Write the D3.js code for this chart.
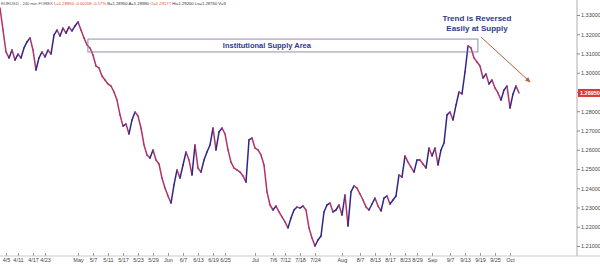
<!DOCTYPE html>
<meta charset="utf-8">
<script src="https://d3js.org/d3.v7.min.js"></script>
<style>
    body { margin: 0; background: #fff; }
    svg { display: block; font-family: "Liberation Sans", Arial, sans-serif; }
</style>
<svg width=600 height=265></svg>
<script>
    // EURUSD 240 min closes, one value every few bars
    var closes = [
        1.3336, 1.3222, 1.3108, 1.3077, 1.3118, 1.3066, 1.3097, 1.3077, 1.3129, 1.3160,
        1.3181, 1.3118, 1.3014, 1.3077, 1.3108, 1.3082, 1.3118, 1.3097, 1.3196, 1.3222,
        1.3191, 1.3232, 1.3206, 1.3238, 1.3217, 1.3243, 1.3264, 1.3222, 1.3181, 1.3144,
        1.3129, 1.3092, 1.3035, 1.3025, 1.2983, 1.2962, 1.2942, 1.2931, 1.2900, 1.2858,
        1.2781, 1.2723, 1.2734, 1.2682, 1.2755, 1.2796, 1.2775, 1.2713, 1.2625, 1.2573,
        1.2557, 1.2599, 1.2547, 1.2526, 1.2453, 1.2401, 1.2360, 1.2323, 1.2417, 1.2495,
        1.2453, 1.2521, 1.2588, 1.2547, 1.2469, 1.2625, 1.2505, 1.2484, 1.2547, 1.2588,
        1.2625, 1.2713, 1.2599, 1.2692, 1.2713, 1.2682, 1.2599, 1.2536, 1.2505, 1.2495,
        1.2484, 1.2464, 1.2432, 1.2651, 1.2661, 1.2609, 1.2599, 1.2573, 1.2521, 1.2381,
        1.2313, 1.2287, 1.2308, 1.2277, 1.2251, 1.2225, 1.2194, 1.2245, 1.2287, 1.2303,
        1.2297, 1.2308, 1.2287, 1.2194, 1.2142, 1.2100, 1.2131, 1.2152, 1.2277, 1.2313,
        1.2323, 1.2277, 1.2287, 1.2313, 1.2261, 1.2365, 1.2204, 1.2381, 1.2412, 1.2401,
        1.2370, 1.2339, 1.2303, 1.2287, 1.2318, 1.2349, 1.2308, 1.2282, 1.2349, 1.2360,
        1.2318, 1.2339, 1.2360, 1.2469, 1.2458, 1.2568, 1.2536, 1.2510, 1.2484, 1.2547,
        1.2547, 1.2526, 1.2505, 1.2609, 1.2568, 1.2609, 1.2521, 1.2599, 1.2635, 1.2781,
        1.2796, 1.2755, 1.2832, 1.2900, 1.2890, 1.3004, 1.3139, 1.3129, 1.3077, 1.3056,
        1.3035, 1.2973, 1.2994, 1.2942, 1.2962, 1.2921, 1.2895, 1.2858, 1.2910, 1.2931,
        1.2817, 1.2890, 1.2931, 1.2895
    ];

    var dateLabels = ["4/5", "4/11", "4/17", "4/23", "May", "5/7", "5/11", "5/17", "5/23", "5/29",
        "Jun", "6/7", "6/13", "6/19", "6/25", "Jul", "7/6", "7/12", "7/18", "7/24",
        "Aug", "8/7", "8/13", "8/17", "8/23", "8/29", "Sep", "9/7", "9/13", "9/19", "9/25", "Oct"];
    var dateIdx = [2, 6, 11, 15, 26, 31, 36, 41, 46, 51,
        56, 61, 66, 71, 75, 85, 91, 95, 100, 105,
        114, 120, 125, 130, 135, 139, 144, 150, 155, 160, 165, 170];

    var priceTicks = [1.21, 1.22, 1.23, 1.24, 1.25, 1.26, 1.27, 1.28, 1.29, 1.30, 1.31, 1.32, 1.33];

    // supply zone and the reversal arrow, in bar index / price
    var supplyZone = [29.3, 159.3, 1.3108, 1.3175];
    var arrowFrom = [160.3, 1.3186];
    var arrowTo = [176.7, 1.2952];

    var svg = d3.select("svg");
    var x = d3.scaleLinear().domain([0, closes.length - 1]).range([0, 519]);
    var y = d3.scaleLinear().domain([1.21, 1.33]).range([246, 15]);
    var fmt = d3.format(".5f");

    // header line
    var header = svg.append("text").attr("x", 1).attr("y", 5).style("font-size", "4.2px");
    header.append("tspan").attr("fill", "#555").text("EURUSD - 240 min FOREX  ");
    header.append("tspan").attr("fill", "#d0502a").text("L=" + fmt(closes[closes.length - 1]) + "  -0.00208  -0.17%  ");
    header.append("tspan").attr("fill", "#333").text("B=1.28950  A=1.28980  ");
    header.append("tspan").attr("fill", "#d0502a").text("O=1.29177  ");
    header.append("tspan").attr("fill", "#333").text("Hi=1.29260  Lo=1.28760  V=9");

    // price axis
    var yAxis = svg.append("g")
        .attr("transform", "translate(577,0)")
        .call(d3.axisRight(y).tickValues(priceTicks).tickFormat(fmt).tickSize(3).tickPadding(1));
    yAxis.select(".domain").remove();
    yAxis.selectAll("line").attr("stroke", "#888");
    yAxis.selectAll("text").style("font-size", "5.5px").attr("fill", "#444");

    // date axis
    var xAxis = svg.append("g")
        .attr("transform", "translate(0,256)")
        .call(d3.axisBottom(x).tickValues(dateIdx)
            .tickFormat(function(d, i) { return dateLabels[i]; })
            .tickSizeInner(-3).tickSizeOuter(0).tickPadding(2));
    xAxis.select(".domain").remove();
    xAxis.selectAll("line").attr("stroke", "#999");
    xAxis.selectAll("text").style("font-size", "5.5px").attr("fill", "#444");

    svg.append("line").attr("x1", 577).attr("x2", 577).attr("y1", 0).attr("y2", 256)
        .attr("stroke", "#999").attr("stroke-width", 0.8);
    svg.append("line").attr("x1", 0).attr("x2", 600).attr("y1", 256).attr("y2", 256)
        .attr("stroke", "#bbb").attr("stroke-width", 0.8);

    // price path, coloured by direction
    svg.append("g").selectAll("line")
        .data(closes.slice(1))
        .enter()
        .append("line")
        .attr("x1", function(d, i) { return x(i); })
        .attr("y1", function(d, i) { return y(closes[i]); })
        .attr("x2", function(d, i) { return x(i + 1); })
        .attr("y2", function(d) { return y(d); })
        .attr("stroke", function(d, i) { return d >= closes[i] ? "#30268a" : "#b0336c"; })
        .attr("stroke-width", 1.5)
        .attr("stroke-linecap", "round");

    // supply area
    svg.append("rect")
        .attr("x", x(supplyZone[0]))
        .attr("y", y(supplyZone[3]))
        .attr("width", x(supplyZone[1]) - x(supplyZone[0]))
        .attr("height", y(supplyZone[2]) - y(supplyZone[3]))
        .attr("fill", "none")
        .attr("stroke", "#8a7f9e")
        .attr("stroke-width", 0.9);
    svg.append("text")
        .attr("x", (x(supplyZone[0]) + x(supplyZone[1])) / 2 - 16)
        .attr("y", (y(supplyZone[2]) + y(supplyZone[3])) / 2 + 2.5)
        .attr("text-anchor", "middle")
        .style("font-size", "7.5px").style("font-weight", "bold")
        .attr("fill", "#2e3a8c")
        .text("Institutional Supply Area");

    // reversal note and arrow
    svg.append("defs").append("marker")
        .attr("id", "head").attr("viewBox", "0 0 10 10")
        .attr("refX", 8).attr("refY", 5)
        .attr("markerWidth", 6).attr("markerHeight", 6)
        .attr("orient", "auto")
        .append("path").attr("d", "M0,1L9,5L0,9z").attr("fill", "#b5603a");
    svg.append("line")
        .attr("x1", x(arrowFrom[0])).attr("y1", y(arrowFrom[1]))
        .attr("x2", x(arrowTo[0])).attr("y2", y(arrowTo[1]))
        .attr("stroke", "#b5603a").attr("stroke-width", 1)
        .attr("marker-end", "url(#head)");

    var note = svg.append("text")
        .attr("text-anchor", "middle")
        .style("font-size", "8px").style("font-weight", "bold")
        .attr("fill", "#2e3a8c");
    note.append("tspan").attr("x", 477).attr("y", 21).text("Trend is Reversed");
    note.append("tspan").attr("x", 477).attr("y", 31).text("Easily at Supply");

    // last price tag
    var last = closes[closes.length - 1];
    svg.append("rect").attr("x", 578).attr("y", y(last) - 4).attr("width", 22).attr("height", 8)
        .attr("fill", "#d83a3a");
    svg.append("text").attr("x", 580).attr("y", y(last) + 2)
        .style("font-size", "5.5px").style("font-weight", "bold")
        .attr("fill", "#fff").text(fmt(last));
</script>
